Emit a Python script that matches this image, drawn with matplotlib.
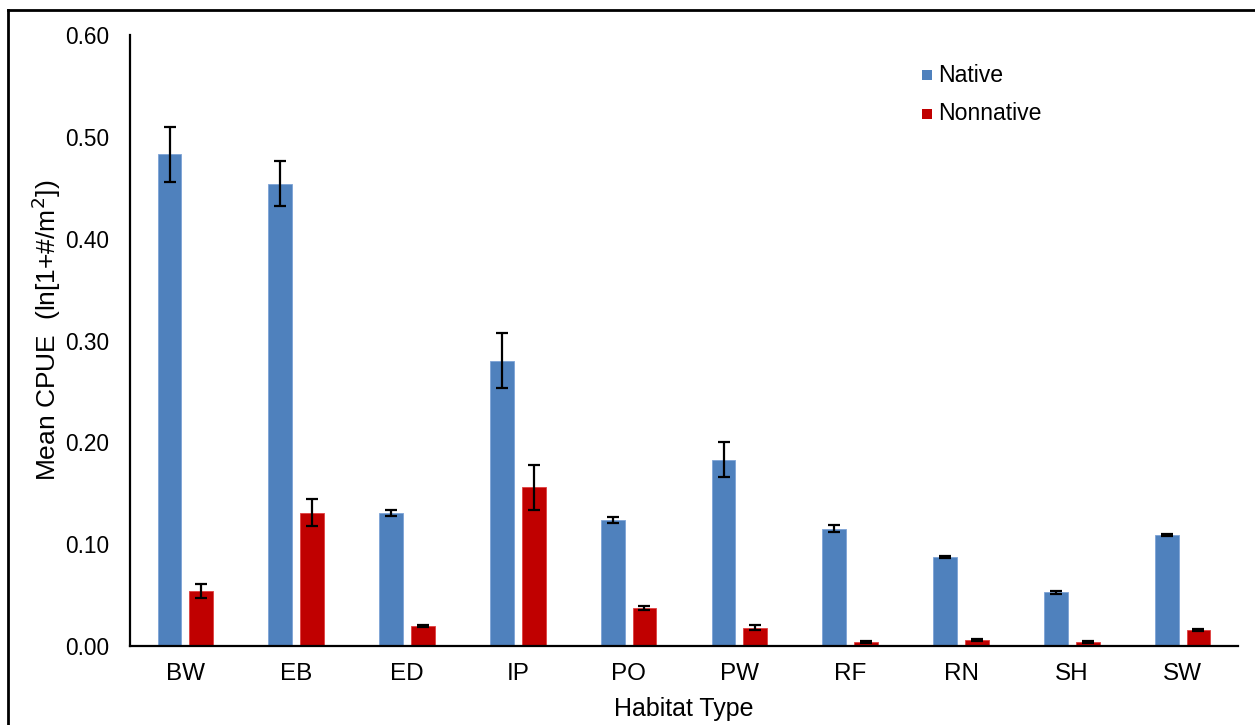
import matplotlib
matplotlib.use("Agg")
import matplotlib.pyplot as plt
import numpy as np
from matplotlib.lines import Line2D
from matplotlib.patches import Rectangle

plt.rcParams['font.family'] = ['Liberation Sans', 'DejaVu Sans']

habitats = ["BW", "EB", "ED", "IP", "PO", "PW", "RF", "RN", "SH", "SW"]
native_mean = [0.483, 0.454, 0.131, 0.280, 0.124, 0.183, 0.115, 0.087, 0.053, 0.109]
native_se = [0.027, 0.022, 0.003, 0.027, 0.003, 0.017, 0.0035, 0.001, 0.0015, 0.001]
nonnative_mean = [0.054, 0.131, 0.020, 0.156, 0.037, 0.018, 0.0043, 0.0056, 0.0042, 0.0157]
nonnative_se = [0.0065, 0.013, 0.001, 0.022, 0.002, 0.0027, 0.001, 0.001, 0.001, 0.001]
y_ticks = [0.0, 0.1, 0.2, 0.3, 0.4, 0.5, 0.6]
series_names = ["Native", "Nonnative"]
series_colors = ["#4f81bd", "#c00000"]

W, H = 1255, 725
fig = plt.figure(figsize=(W / 100, H / 100), dpi=100)
# plot area in pixels: left 130, right 1238, top 35, bottom 646
ax = fig.add_axes([130 / W, 1 - 646 / H, (1238 - 130) / W, (646 - 35) / H])

x = np.arange(len(habitats))
bw = 0.215
off = 0.143
err_kw = dict(ecolor="black", elinewidth=1.6, capsize=4.3, capthick=1.6)
ax.bar(x - off, native_mean, bw, yerr=native_se, color=series_colors[0],
       edgecolor="#7da3d6", linewidth=0.6, error_kw=err_kw)
ax.bar(x + off, nonnative_mean, bw, yerr=nonnative_se, color=series_colors[1],
       edgecolor="#e04040", linewidth=0.6, error_kw=err_kw)

ax.set_xlim(-0.5, len(habitats) - 0.5)
ax.set_ylim(0, 0.6)
ax.set_yticks(y_ticks)
ax.set_yticklabels([f"{v:.2f}" for v in y_ticks])
ax.set_xticks(x)
ax.set_xticklabels(habitats)
ax.tick_params(axis="both", length=0, colors="#000000")
ax.tick_params(axis="x", labelsize=17.5, pad=12)
ax.tick_params(axis="y", labelsize=16.3, pad=15)

for s in ["top", "right"]:
    ax.spines[s].set_visible(False)
ax.spines["left"].set_linewidth(1.6)
ax.spines["bottom"].set_linewidth(1.6)

# axis titles
fig.text(684 / W, 1 - 709 / H, "Habitat Type", fontsize=18, ha="center", va="center")
fig.text(46 / W, 1 - 330 / H, "Mean CPUE  (ln[1+#/m$^2$])", fontsize=19,
         ha="center", va="center", rotation=90)

# legend entries
leg_y = [74, 113]
for name, col, yy in zip(series_names, series_colors, leg_y):
    fig.add_artist(Rectangle((922 / W, 1 - (yy + 6) / H), 10 / W, 10 / H,
                             transform=fig.transFigure, facecolor=col,
                             edgecolor="none"))
    fig.text(938 / W, 1 - (yy + 1) / H, name, fontsize=16.6, ha="left", va="center")

# outer frame of the figure
fig.add_artist(Line2D([8 / W, 8 / W], [0, 1 - 10 / H], transform=fig.transFigure,
                      color="black", linewidth=2))
fig.add_artist(Line2D([8 / W, 1], [1 - 10 / H, 1 - 10 / H], transform=fig.transFigure,
                      color="black", linewidth=2))

fig.savefig("out.png", dpi=100)
